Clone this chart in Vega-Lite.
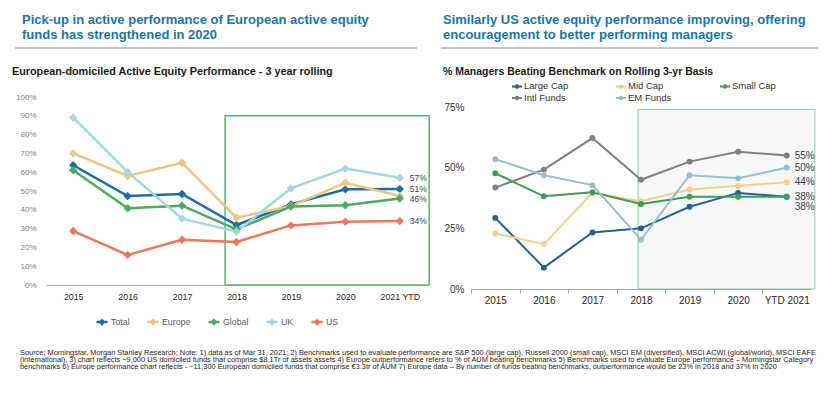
{
  "$schema": "https://vega.github.io/schema/vega-lite/v6.json",
  "background": "white",
  "padding": {"left": 12, "top": 13, "right": 0, "bottom": 0},
  "config": {
    "view": {"stroke": null},
    "font": "Liberation Sans",
    "title": {"frame": "group"},
    "axis": {"labelOverlap": false}
  },
  "datasets": {
    "europe": [
      {"year": 2015, "series": "Total", "value": 0.637},
      {"year": 2016, "series": "Total", "value": 0.473},
      {"year": 2017, "series": "Total", "value": 0.484},
      {"year": 2018, "series": "Total", "value": 0.319},
      {"year": 2019, "series": "Total", "value": 0.429},
      {"year": 2020, "series": "Total", "value": 0.509},
      {"year": 2021, "series": "Total", "value": 0.51},
      {"year": 2015, "series": "Europe", "value": 0.70},
      {"year": 2016, "series": "Europe", "value": 0.58},
      {"year": 2017, "series": "Europe", "value": 0.65},
      {"year": 2018, "series": "Europe", "value": 0.358},
      {"year": 2019, "series": "Europe", "value": 0.42},
      {"year": 2020, "series": "Europe", "value": 0.544},
      {"year": 2021, "series": "Europe", "value": 0.473},
      {"year": 2015, "series": "Global", "value": 0.61},
      {"year": 2016, "series": "Global", "value": 0.408},
      {"year": 2017, "series": "Global", "value": 0.422},
      {"year": 2018, "series": "Global", "value": 0.296},
      {"year": 2019, "series": "Global", "value": 0.417},
      {"year": 2020, "series": "Global", "value": 0.424},
      {"year": 2021, "series": "Global", "value": 0.46},
      {"year": 2015, "series": "UK", "value": 0.89},
      {"year": 2016, "series": "UK", "value": 0.60},
      {"year": 2017, "series": "UK", "value": 0.353},
      {"year": 2018, "series": "UK", "value": 0.284},
      {"year": 2019, "series": "UK", "value": 0.514},
      {"year": 2020, "series": "UK", "value": 0.619},
      {"year": 2021, "series": "UK", "value": 0.57},
      {"year": 2015, "series": "US", "value": 0.287},
      {"year": 2016, "series": "US", "value": 0.16},
      {"year": 2017, "series": "US", "value": 0.241},
      {"year": 2018, "series": "US", "value": 0.229},
      {"year": 2019, "series": "US", "value": 0.317},
      {"year": 2020, "series": "US", "value": 0.337},
      {"year": 2021, "series": "US", "value": 0.34}
    ],
    "us": [
      {"year": 2015, "series": "Large Cap", "value": 0.293},
      {"year": 2016, "series": "Large Cap", "value": 0.088},
      {"year": 2017, "series": "Large Cap", "value": 0.233},
      {"year": 2018, "series": "Large Cap", "value": 0.25},
      {"year": 2019, "series": "Large Cap", "value": 0.339},
      {"year": 2020, "series": "Large Cap", "value": 0.396},
      {"year": 2021, "series": "Large Cap", "value": 0.38},
      {"year": 2015, "series": "Mid Cap", "value": 0.229},
      {"year": 2016, "series": "Mid Cap", "value": 0.185},
      {"year": 2017, "series": "Mid Cap", "value": 0.396},
      {"year": 2018, "series": "Mid Cap", "value": 0.362},
      {"year": 2019, "series": "Mid Cap", "value": 0.41},
      {"year": 2020, "series": "Mid Cap", "value": 0.425},
      {"year": 2021, "series": "Mid Cap", "value": 0.44},
      {"year": 2015, "series": "Small Cap", "value": 0.477},
      {"year": 2016, "series": "Small Cap", "value": 0.382},
      {"year": 2017, "series": "Small Cap", "value": 0.399},
      {"year": 2018, "series": "Small Cap", "value": 0.35},
      {"year": 2019, "series": "Small Cap", "value": 0.38},
      {"year": 2020, "series": "Small Cap", "value": 0.38},
      {"year": 2021, "series": "Small Cap", "value": 0.38},
      {"year": 2015, "series": "Intl Funds", "value": 0.418},
      {"year": 2016, "series": "Intl Funds", "value": 0.492},
      {"year": 2017, "series": "Intl Funds", "value": 0.622},
      {"year": 2018, "series": "Intl Funds", "value": 0.45},
      {"year": 2019, "series": "Intl Funds", "value": 0.525},
      {"year": 2020, "series": "Intl Funds", "value": 0.566},
      {"year": 2021, "series": "Intl Funds", "value": 0.55},
      {"year": 2015, "series": "EM Funds", "value": 0.535},
      {"year": 2016, "series": "EM Funds", "value": 0.469},
      {"year": 2017, "series": "EM Funds", "value": 0.428},
      {"year": 2018, "series": "EM Funds", "value": 0.203},
      {"year": 2019, "series": "EM Funds", "value": 0.469},
      {"year": 2020, "series": "EM Funds", "value": 0.456},
      {"year": 2021, "series": "EM Funds", "value": 0.50}
    ]
  },
  "title": {
    "text": [
      "Source; Morningstar, Morgan Stanley Research; Note: 1) data as of Mar 31, 2021; 2) Benchmarks used to evaluate performance are S&P 500 (large cap), Russell 2000 (small cap), MSCI EM (diversified), MSCI ACWI (global/world), MSCI EAFE",
      "(international), 3) chart reflects ~9,000 US domiciled funds that comprise $8.1Tr of assets assets 4) Europe outperformance refers to % of AUM beating benchmarks 5) Benchmarks used to evaluate Europe performance – Morningstar Category",
      "benchmarks 6) Europe performance chart reflects - ~11,300 European domiciled funds that comprise €3.3tr of AUM 7) Europe data – By number of funds beating benchmarks, outperformance would be 23% in 2018 and 37% in 2020"
    ],
    "orient": "bottom",
    "anchor": "start",
    "dx": -26,
    "offset": 20,
    "fontSize": 7.4,
    "lineHeight": 6.8,
    "fontWeight": "normal",
    "color": "#222222"
  },
  "resolve": {"scale": {"color": "independent", "x": "independent", "y": "independent"}, "legend": {"color": "independent"}},
  "spacing": 10,
  "hconcat": [
    {
      "spacing": 17,
      "resolve": {"scale": {"x": "independent", "y": "independent"}, "legend": {"color": "independent"}},
      "vconcat": [
        {
          "width": 371,
          "height": 1,
          "data": {"values": [{}]},
          "title": {
            "text": ["Pick-up in active performance of European active equity", "funds has strengthened in 2020"],
            "anchor": "start", "dx": -24, "fontSize": 13, "lineHeight": 15,
            "fontWeight": "bold", "color": "#1a75a8", "offset": 6
          },
          "mark": {"type": "rule", "color": "#8c8c8c", "strokeWidth": 1},
          "encoding": {
            "x": {"datum": -0.0836, "type": "quantitative", "scale": {"domain": [0, 1]}, "axis": null},
            "x2": {"datum": 1},
            "y": {"datum": 1, "type": "quantitative", "scale": {"domain": [0, 1]}, "axis": null}
          }
        },
        {
          "name": "leftchart",
          "width": 381,
          "height": 188,
          "title": {
            "text": "European-domiciled Active Equity Performance - 3 year rolling",
            "anchor": "start", "dx": -34, "fontSize": 10.8,
            "fontWeight": "bold", "color": "#1a1a1a", "offset": 16
          },
          "layer": [
            {
              "data": {"values": [{}]},
              "mark": {"type": "rect", "fill": "transparent", "stroke": "#5db572", "strokeWidth": 1.5},
              "encoding": {
                "x": {"datum": 2017.79, "type": "quantitative", "scale": {"domain": [2014.5, 2021.5], "nice": false, "zero": false}},
                "x2": {"datum": 2021.54},
                "y": {
                  "datum": 0, "type": "quantitative",
                  "scale": {"domain": [0, 1], "nice": false},
                  "axis": {
                    "values": [0, 0.1, 0.2, 0.3, 0.4, 0.5, 0.6, 0.7, 0.8, 0.9, 1], "tickCount": 11,
                    "format": ".0%", "domain": false, "ticks": false, "grid": false,
                    "labelOverlap": false, "labelBound": false,
                    "labelColor": "#808080", "labelFontSize": 8, "labelPadding": 10, "title": null
                  }
                },
                "y2": {"datum": 0.9}
              }
            },
            {
              "data": {"name": "europe"},
              "mark": {"type": "line", "strokeWidth": 2.5, "point": {"shape": "diamond", "filled": true, "size": 70}},
              "encoding": {
                "x": {
                  "field": "year", "type": "quantitative",
                  "scale": {"domain": [2014.5, 2021.5], "nice": false, "zero": false},
                  "axis": {
                    "values": [2015, 2016, 2017, 2018, 2019, 2020, 2021], "tickCount": 7, "format": "d",
                    "labelExpr": "datum.value == 2021 ? '2021 YTD' : datum.label",
                    "ticks": false, "grid": false, "domainColor": "#a6a6a6",
                    "labelFontSize": 8.8, "labelColor": "#262626", "labelPadding": 7,
                    "labelFlush": false, "labelOverlap": false, "title": null
                  }
                },
                "y": {
                  "field": "value", "type": "quantitative",
                  "scale": {"domain": [0, 1], "nice": false},
                  "axis": {
                    "values": [0, 0.1, 0.2, 0.3, 0.4, 0.5, 0.6, 0.7, 0.8, 0.9, 1], "tickCount": 11,
                    "format": ".0%", "domain": false, "ticks": false, "grid": false,
                    "labelOverlap": false, "labelBound": false,
                    "labelColor": "#808080", "labelFontSize": 8, "labelPadding": 10, "title": null
                  }
                },
                "color": {
                  "field": "series", "type": "nominal",
                  "scale": {
                    "domain": ["Total", "Europe", "Global", "UK", "US"],
                    "range": ["#1a6da6", "#e9c87d", "#4daa5f", "#a7d3e3", "#e9795a"]
                  },
                  "legend": {
                    "title": null, "orient": "none", "legendX": 49, "legendY": 218,
                    "direction": "horizontal",
                    "symbolType": "M-1,0H1M0,-0.32L0.32,0L0,0.32L-0.32,0Z",
                    "symbolSize": 121, "symbolStrokeWidth": 2.5,
                    "labelFontSize": 8.8, "labelColor": "#595959", "labelOffset": 2,
                    "columnPadding": 12,
                    "encode": {"symbols": {"update": {"fill": {"scale": "leftchart_color", "field": "value"}}}}
                  }
                },
                "order": {"field": "year"}
              }
            },
            {
              "data": {"name": "europe"},
              "transform": [{"filter": "datum.year == 2021 && datum.series != 'Europe'"}],
              "mark": {"type": "text", "align": "left", "baseline": "middle", "dx": 10, "fontSize": 8.5, "color": "#404040"},
              "encoding": {
                "x": {"field": "year", "type": "quantitative"},
                "y": {"field": "value", "type": "quantitative"},
                "text": {"field": "value", "format": ".0%"}
              }
            }
          ]
        }
      ]
    },
    {
      "spacing": 17,
      "resolve": {"scale": {"x": "independent", "y": "independent"}, "legend": {"color": "independent"}},
      "vconcat": [
        {
          "width": 347,
          "height": 1,
          "data": {"values": [{}]},
          "title": {
            "text": ["Similarly US active equity performance improving, offering", "encouragement to better performing managers"],
            "anchor": "start", "dx": -28, "fontSize": 13, "lineHeight": 15,
            "fontWeight": "bold", "color": "#1a75a8", "offset": 6
          },
          "mark": {"type": "rule", "color": "#8c8c8c", "strokeWidth": 1},
          "encoding": {
            "x": {"datum": -0.0865, "type": "quantitative", "scale": {"domain": [0, 1]}, "axis": null},
            "x2": {"datum": 1},
            "y": {"datum": 1, "type": "quantitative", "scale": {"domain": [0, 1]}, "axis": null}
          }
        },
        {
          "name": "rightchart",
          "width": 340,
          "height": 182,
          "title": {
            "text": "% Managers Beating Benchmark on Rolling 3-yr Basis",
            "anchor": "start", "dx": -28, "fontSize": 10.5,
            "fontWeight": "bold", "color": "#1a1a1a", "offset": 3
          },
          "layer": [
            {
              "data": {"values": [{}]},
              "mark": {"type": "rect", "fill": "#f6f8f8", "stroke": "#8fc79d", "strokeWidth": 1},
              "encoding": {
                "x": {"datum": 2017.94, "type": "quantitative", "scale": {"domain": [2014.5, 2021.5], "nice": false, "zero": false}},
                "x2": {"datum": 2021.58},
                "y": {"datum": 0, "type": "quantitative", "scale": {"domain": [0, 0.75], "nice": false}},
                "y2": {"datum": 0.74}
              }
            },
            {
              "data": {"name": "us"},
              "mark": {"type": "line", "strokeWidth": 2, "point": {"shape": "circle", "filled": true, "size": 35, "opacity": 1}},
              "encoding": {
                "x": {
                  "field": "year", "type": "quantitative",
                  "scale": {"domain": [2014.5, 2021.5], "nice": false, "zero": false},
                  "axis": {
                    "values": [2015, 2016, 2017, 2018, 2019, 2020, 2021], "tickCount": 7, "format": "d",
                    "labelExpr": "datum.value == 2021 ? 'YTD 2021' : datum.label",
                    "ticks": true, "tickSize": 4, "tickColor": "#a6a6a6",
                    "tickOffset": -24.3, "labelOffset": 24.3,
                    "grid": false, "domainColor": "#a6a6a6",
                    "labelFontSize": 10, "labelColor": "#262626", "labelPadding": 2,
                    "labelFlush": false, "labelOverlap": false, "title": null
                  }
                },
                "y": {
                  "field": "value", "type": "quantitative",
                  "scale": {"domain": [0, 0.75], "nice": false},
                  "axis": {
                    "values": [0, 0.25, 0.5, 0.75], "tickCount": 4,
                    "format": ".0%", "domain": false, "ticks": false, "grid": false,
                    "labelOverlap": false,
                    "labelColor": "#333333", "labelFontSize": 10, "labelPadding": 7, "title": null
                  }
                },
                "color": {
                  "field": "series", "type": "nominal",
                  "scale": {
                    "domain": ["Large Cap", "Mid Cap", "Small Cap", "Intl Funds", "EM Funds"],
                    "range": ["#246192", "#f1d08c", "#3f9b55", "#7f7f7f", "#97bfcb"]
                  },
                  "legend": {
                    "title": null, "orient": "none", "legendX": 40, "legendY": -27,
                    "direction": "horizontal", "columns": 3, "gridAlign": "all",
                    "symbolType": "M-1,0H1M0.25,0A0.25,0.25,0,1,1,-0.25,0A0.25,0.25,0,1,1,0.25,0Z",
                    "symbolSize": 100, "symbolStrokeWidth": 2,
                    "labelFontSize": 9.5, "labelColor": "#333333", "labelOffset": 1,
                    "columnPadding": 43, "rowPadding": -1,
                    "encode": {"symbols": {"update": {"fill": {"scale": "rightchart_color", "field": "value"}}}}
                  }
                },
                "order": {"field": "year"}
              }
            },
            {
              "data": {"name": "us"},
              "transform": [{"filter": "datum.year == 2021 && datum.series != 'Large Cap'"}],
              "mark": {"type": "text", "align": "left", "baseline": "middle", "dx": 8, "fontSize": 10, "color": "#404040"},
              "encoding": {
                "x": {"field": "year", "type": "quantitative"},
                "y": {"field": "value", "type": "quantitative"},
                "text": {"field": "value", "format": ".0%"}
              }
            },
            {
              "data": {"name": "us"},
              "transform": [{"filter": "datum.year == 2021 && datum.series == 'Large Cap'"}],
              "mark": {"type": "text", "align": "left", "baseline": "middle", "dx": 8, "dy": 10, "fontSize": 10, "color": "#404040"},
              "encoding": {
                "x": {"field": "year", "type": "quantitative"},
                "y": {"field": "value", "type": "quantitative"},
                "text": {"field": "value", "format": ".0%"}
              }
            }
          ]
        }
      ]
    }
  ]
}
